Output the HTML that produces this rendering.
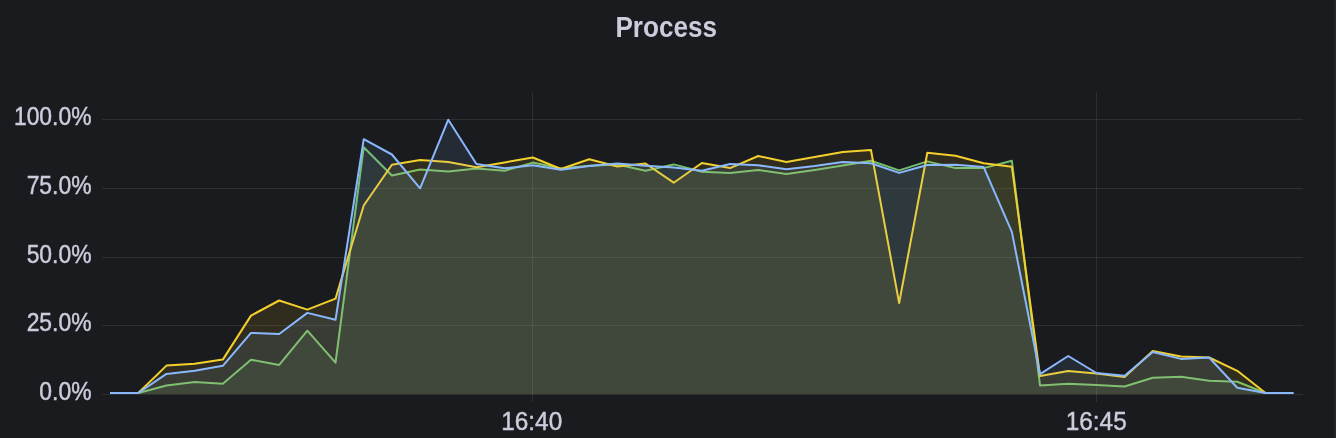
<!DOCTYPE html>
<html><head><meta charset="utf-8"><style>
html,body{margin:0;padding:0;background:#1a1b1f;}
body{width:1336px;height:438px;overflow:hidden;}
svg{display:block;will-change:transform;}
.ax{font-family:"Liberation Sans",sans-serif;font-size:25px;fill:#ccccdc;stroke:#ccccdc;stroke-width:0.45px;}
.ti{font-family:"Liberation Sans",sans-serif;font-size:29px;font-weight:bold;fill:#ccccdc;}
</style></head><body>
<svg width="1336" height="438" viewBox="0 0 1336 438">
<rect width="1336" height="438" fill="#1a1b1f"/>
<rect x="1334" y="0" width="2" height="438" fill="#25262a"/>
<text transform="translate(666.2,37) scale(0.9,1)" text-anchor="middle" class="ti">Process</text>
<rect x="102" y="119" width="1201" height="1" fill="rgba(240,250,255,0.09)"/>
<rect x="102" y="188" width="1201" height="1" fill="rgba(240,250,255,0.09)"/>
<rect x="102" y="257" width="1201" height="1" fill="rgba(240,250,255,0.09)"/>
<rect x="102" y="325" width="1201" height="1" fill="rgba(240,250,255,0.09)"/>
<rect x="102" y="394" width="1201" height="1" fill="rgba(240,250,255,0.09)"/>
<rect x="532" y="92" width="1" height="310" fill="rgba(240,250,255,0.09)"/>
<rect x="1096" y="92" width="1" height="310" fill="rgba(240,250,255,0.09)"/>

<path d="M110.10,394.0 L110.10,393.00 L138.28,393.00 L166.46,385.50 L194.64,382.10 L222.82,383.80 L251.00,359.70 L279.18,364.90 L307.36,330.70 L335.54,362.70 L363.72,147.20 L391.90,175.50 L420.08,169.60 L448.26,171.40 L476.44,168.60 L504.62,170.80 L532.80,162.60 L560.98,168.50 L589.16,165.80 L617.34,164.60 L645.52,170.80 L673.70,164.40 L701.88,171.80 L730.06,172.90 L758.24,170.00 L786.42,174.00 L814.60,170.00 L842.78,165.60 L870.96,160.80 L899.14,170.40 L927.32,161.40 L955.50,168.10 L983.68,168.10 L1011.86,160.80 L1040.04,385.60 L1068.22,383.70 L1096.40,384.90 L1124.58,386.50 L1152.76,377.70 L1180.94,376.70 L1209.12,380.70 L1237.30,381.70 L1265.48,393.00 L1265.48,394.0 Z" fill="#73bf69" fill-opacity="0.1"/>
<polyline points="110.10,393.00 138.28,393.00 166.46,385.50 194.64,382.10 222.82,383.80 251.00,359.70 279.18,364.90 307.36,330.70 335.54,362.70 363.72,147.20 391.90,175.50 420.08,169.60 448.26,171.40 476.44,168.60 504.62,170.80 532.80,162.60 560.98,168.50 589.16,165.80 617.34,164.60 645.52,170.80 673.70,164.40 701.88,171.80 730.06,172.90 758.24,170.00 786.42,174.00 814.60,170.00 842.78,165.60 870.96,160.80 899.14,170.40 927.32,161.40 955.50,168.10 983.68,168.10 1011.86,160.80 1040.04,385.60 1068.22,383.70 1096.40,384.90 1124.58,386.50 1152.76,377.70 1180.94,376.70 1209.12,380.70 1237.30,381.70 1265.48,393.00" fill="none" stroke="#73bf69" stroke-width="2" stroke-linejoin="round"/>
<path d="M110.10,394.0 L110.10,393.00 L138.28,393.00 L166.46,365.60 L194.64,363.80 L222.82,359.60 L251.00,315.60 L279.18,300.50 L307.36,309.60 L335.54,298.60 L363.72,205.50 L391.90,164.80 L420.08,159.90 L448.26,162.10 L476.44,167.20 L504.62,162.40 L532.80,157.50 L560.98,169.00 L589.16,159.30 L617.34,166.50 L645.52,163.50 L673.70,182.70 L701.88,163.00 L730.06,168.10 L758.24,156.00 L786.42,162.00 L814.60,157.10 L842.78,152.00 L870.96,150.00 L899.14,303.00 L927.32,152.80 L955.50,155.80 L983.68,163.30 L1011.86,166.70 L1040.04,376.00 L1068.22,371.00 L1096.40,373.40 L1124.58,377.00 L1152.76,351.00 L1180.94,356.50 L1209.12,357.50 L1237.30,370.80 L1265.48,393.00 L1265.48,394.0 Z" fill="#f4d02c" fill-opacity="0.1"/>
<polyline points="110.10,393.00 138.28,393.00 166.46,365.60 194.64,363.80 222.82,359.60 251.00,315.60 279.18,300.50 307.36,309.60 335.54,298.60 363.72,205.50 391.90,164.80 420.08,159.90 448.26,162.10 476.44,167.20 504.62,162.40 532.80,157.50 560.98,169.00 589.16,159.30 617.34,166.50 645.52,163.50 673.70,182.70 701.88,163.00 730.06,168.10 758.24,156.00 786.42,162.00 814.60,157.10 842.78,152.00 870.96,150.00 899.14,303.00 927.32,152.80 955.50,155.80 983.68,163.30 1011.86,166.70 1040.04,376.00 1068.22,371.00 1096.40,373.40 1124.58,377.00 1152.76,351.00 1180.94,356.50 1209.12,357.50 1237.30,370.80 1265.48,393.00" fill="none" stroke="#f4d02c" stroke-width="2" stroke-linejoin="round"/>
<path d="M110.10,394.0 L110.10,393.00 L138.28,393.00 L166.46,373.90 L194.64,370.70 L222.82,365.80 L251.00,332.90 L279.18,334.00 L307.36,312.90 L335.54,319.70 L363.72,139.20 L391.90,154.50 L420.08,188.30 L448.26,119.70 L476.44,164.00 L504.62,168.30 L532.80,165.30 L560.98,169.80 L589.16,166.00 L617.34,163.50 L645.52,165.80 L673.70,167.40 L701.88,170.80 L730.06,164.00 L758.24,165.30 L786.42,169.30 L814.60,166.00 L842.78,161.90 L870.96,163.30 L899.14,172.90 L927.32,165.00 L955.50,164.70 L983.68,167.10 L1011.86,231.90 L1040.04,374.20 L1068.22,356.00 L1096.40,373.00 L1124.58,375.80 L1152.76,352.00 L1180.94,358.90 L1209.12,357.50 L1237.30,387.70 L1265.48,393.00 L1293.66,393.00 L1293.66,394.0 Z" fill="#8ab8ff" fill-opacity="0.1"/>
<polyline points="110.10,393.00 138.28,393.00 166.46,373.90 194.64,370.70 222.82,365.80 251.00,332.90 279.18,334.00 307.36,312.90 335.54,319.70 363.72,139.20 391.90,154.50 420.08,188.30 448.26,119.70 476.44,164.00 504.62,168.30 532.80,165.30 560.98,169.80 589.16,166.00 617.34,163.50 645.52,165.80 673.70,167.40 701.88,170.80 730.06,164.00 758.24,165.30 786.42,169.30 814.60,166.00 842.78,161.90 870.96,163.30 899.14,172.90 927.32,165.00 955.50,164.70 983.68,167.10 1011.86,231.90 1040.04,374.20 1068.22,356.00 1096.40,373.00 1124.58,375.80 1152.76,352.00 1180.94,358.90 1209.12,357.50 1237.30,387.70 1265.48,393.00 1293.66,393.00" fill="none" stroke="#8ab8ff" stroke-width="2" stroke-linejoin="round"/>

<text transform="translate(91.5,125.2) scale(0.915,1)" text-anchor="end" class="ax">100.0%</text>
<text transform="translate(91.5,194.2) scale(0.915,1)" text-anchor="end" class="ax">75.0%</text>
<text transform="translate(91.5,263.2) scale(0.915,1)" text-anchor="end" class="ax">50.0%</text>
<text transform="translate(91.5,331.2) scale(0.915,1)" text-anchor="end" class="ax">25.0%</text>
<text transform="translate(91.5,400.2) scale(0.915,1)" text-anchor="end" class="ax">0.0%</text>
<text transform="translate(531.7,429.9) scale(0.975,1)" text-anchor="middle" class="ax">16:40</text>
<text transform="translate(1096.2,429.9) scale(0.975,1)" text-anchor="middle" class="ax">16:45</text>

</svg>
</body></html>
